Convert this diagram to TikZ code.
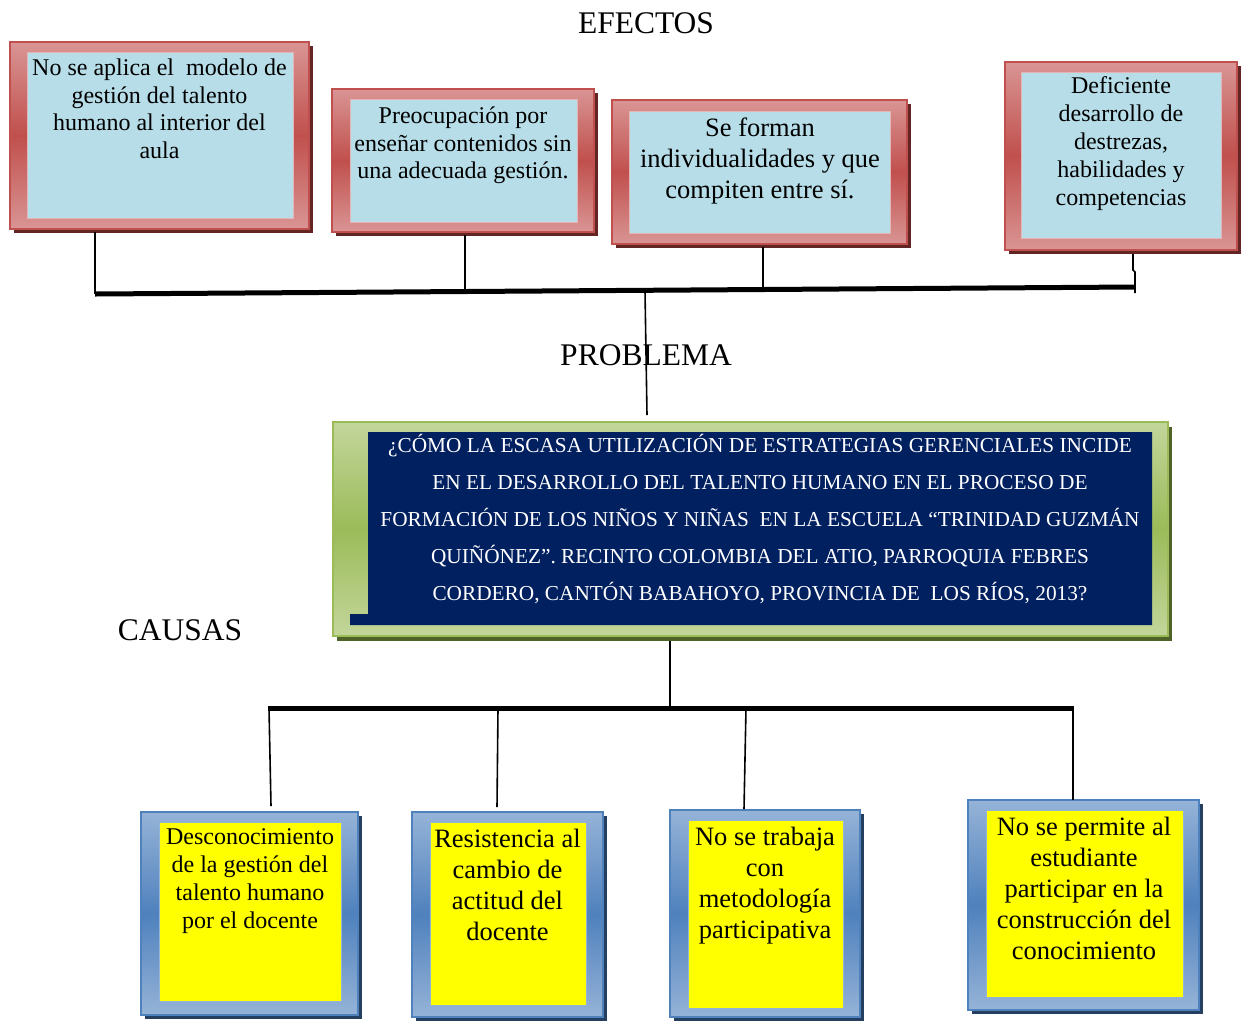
\documentclass[tikz,border=0pt]{standalone}
\usepackage{fontspec}
\setmainfont{Liberation Serif}
\usetikzlibrary{calc,shadows}

\definecolor{pinkL}{HTML}{D99594}
\definecolor{redM}{HTML}{C0504D}
\definecolor{redD}{HTML}{632523}
\definecolor{paleBlue}{HTML}{B7DDE8}
\definecolor{blueL}{HTML}{95B3D7}
\definecolor{blueM}{HTML}{4F81BD}
\definecolor{blueD}{HTML}{243F60}
\definecolor{greenL}{HTML}{C3D69B}
\definecolor{greenM}{HTML}{9BBB59}
\definecolor{greenD}{HTML}{4F6228}
\definecolor{navy}{HTML}{002060}
\definecolor{pureYellow}{RGB}{255,255,0}

\newcommand\setfs[2]{\fontsize{#1}{#2}\selectfont}

\tikzset{
  frame/.style={rectangle, inner sep=0pt, outer sep=0pt, line width=1.2pt},
  effframe/.style={frame, draw=redM, top color=pinkL, bottom color=pinkL, middle color=redM,
    drop shadow={shadow xshift=4pt, shadow yshift=-4pt, fill=redD, opacity=1}},
  effinner/.style={frame, line width=0.6pt, draw=pinkL!70!white, fill=paleBlue},
  causeframe/.style={frame, draw=blueM, top color=blueL, bottom color=blueL, middle color=blueM,
    drop shadow={shadow xshift=4pt, shadow yshift=-4pt, fill=blueD, opacity=1}},
  causeinner/.style={frame, line width=0.6pt, draw=blueL, fill=pureYellow},
  probframe/.style={frame, draw=greenM, top color=greenL, bottom color=greenL, middle color=greenM,
    drop shadow={shadow xshift=4pt, shadow yshift=-5pt, fill=greenD, opacity=1}},
  boxtext/.style={inner sep=0pt, align=center, text=black},
  heading/.style={inner sep=0pt, font=\setfs{31.5}{36}},
  thinline/.style={line width=1.6pt, black},
  barline/.style={line width=5pt, black},
}

\begin{document}
\begin{tikzpicture}[x=1pt,y=-1pt]
\useasboundingbox (0,0) rectangle (1241,1021);

% ---------- headings ----------
\node[heading] (hEfe) at (646,23) {EFECTOS};
\node[heading] (hCau) at (180,630) {CAUSAS};

% ---------- effect boxes ----------
\node[effframe, minimum width=299pt, minimum height=187pt] (e1) at (159.5,135.5) {};
\node[effinner, minimum width=266pt, minimum height=166pt] (e1i) at (160,135) {};
\node[boxtext, font=\setfs{24}{27.5}] (e1t) at (159.5,109)
  {No se aplica el\ \ modelo de\\ gestión del talento\\ humano al interior del\\ aula};

\node[effframe, minimum width=262pt, minimum height=143pt] (e2) at (463,160.5) {};
\node[effinner, minimum width=227pt, minimum height=123pt] (e2i) at (463.5,160.5) {};
\node[boxtext, font=\setfs{24}{27.5}] (e2t) at (463,145.5)
  {Preocupación por\\ enseñar contenidos sin\\ una adecuada gestión.};

\node[effframe, minimum width=295pt, minimum height=144pt] (e3) at (759.5,172) {};
\node[effinner, minimum width=261pt, minimum height=122pt] (e3i) at (759.5,172) {};
\node[boxtext, font=\setfs{26.5}{31}] (e3t) at (760,161)
  {Se forman\\ individualidades y que\\ compiten entre sí.};

\node[effframe, minimum width=232pt, minimum height=188pt] (e4) at (1121,156) {};
\node[effinner, minimum width=200pt, minimum height=166pt] (e4i) at (1121,155) {};
\node[boxtext, font=\setfs{24}{28}] (e4t) at (1121,144)
  {Deficiente\\ desarrollo de\\ destrezas,\\ habilidades y\\ competencias};

% ---------- effects connectors ----------
\coordinate (topL) at (95,294);
\coordinate (topR) at (1135,287);
\coordinate (j2) at (465,291.5);
\coordinate (j3) at (763,289);
\coordinate (jm) at (645,291);
\coordinate (k4) at (1133,270);
\coordinate (k4b) at (1135,272);
\draw[thinline] ($(e1.south -| topL)+(0,3)$) -- (topL);
\draw[thinline] ($(e2.south -| j2)+(0,3)$) -- (j2);
\draw[thinline] ($(e3.south -| j3)+(0,3)$) -- (j3);
\draw[thinline] ($(e4.south -| k4)+(0,4)$) -- (k4) -- (k4b) -- ($(topR)+(0,6)$);
\draw[barline] (topL) -- (topR);

% ---------- problem ----------
\node[heading] (hPro) at (646,355) {PROBLEMA};
\node[probframe, minimum width=835pt, minimum height=214pt] (prob) at (750.5,529) {};
\fill[navy] (368,432) -- (1152,432) -- (1152,625) -- (350,625) -- (350,614) -- (368,614) -- cycle;
\node[boxtext, text=white, font=\setfs{21.3}{37}] (probt) at (760,519)
  {¿CÓMO LA ESCASA UTILIZACIÓN DE ESTRATEGIAS GERENCIALES INCIDE\\
   EN EL DESARROLLO DEL TALENTO HUMANO EN EL PROCESO DE\\
   FORMACIÓN DE LOS NIÑOS Y NIÑAS\ \ EN LA ESCUELA “TRINIDAD GUZMÁN\\
   QUIÑÓNEZ”. RECINTO COLOMBIA DEL ATIO, PARROQUIA FEBRES\\
   CORDERO, CANTÓN BABAHOYO, PROVINCIA DE\ \ LOS RÍOS, 2013?};
\coordinate (pTop) at (647,415);
\draw[thinline] (jm) -- (pTop);

% ---------- cause boxes ----------
\node[causeframe, minimum width=217pt, minimum height=203pt] (c1) at (249.5,913.5) {};
\node[causeinner, minimum width=182pt, minimum height=179pt] (c1i) at (250,911.5) {};
\node[boxtext, font=\setfs{24}{28}] (c1t) at (250,881)
  {Desconocimiento\\ de la gestión del\\ talento humano\\ por el docente};

\node[causeframe, minimum width=191pt, minimum height=205pt] (c2) at (507.5,914.5) {};
\node[causeinner, minimum width=156pt, minimum height=183pt] (c2i) at (508,913.5) {};
\node[boxtext, font=\setfs{26.5}{31}] (c2t) at (507.5,885)
  {Resistencia al\\ cambio de\\ actitud del\\ docente};

\node[causeframe, minimum width=190pt, minimum height=207pt] (c3) at (765,913.5) {};
\node[causeinner, minimum width=155pt, minimum height=188pt] (c3i) at (765.5,914) {};
\node[boxtext, font=\setfs{26.5}{31}] (c3t) at (765,885.5)
  {No se trabaja\\ con\\ metodología\\ participativa};

\node[causeframe, minimum width=231pt, minimum height=210pt] (c4) at (1083.5,905) {};
\node[causeinner, minimum width=197pt, minimum height=187pt] (c4i) at (1084.5,903.5) {};
\node[boxtext, font=\setfs{26.5}{31}] (c4t) at (1084,888)
  {No se permite al\\ estudiante\\ participar en la\\ construcción del\\ conocimiento};

% ---------- causes connectors ----------
\coordinate (pBot) at (670,641);
\coordinate (botL) at (268,708);
\coordinate (botR) at (1074,708);
\coordinate (m1) at (269,708);
\coordinate (m2) at (498,708);
\coordinate (m3) at (746,708);
\coordinate (m4) at (1073,708);
\coordinate (n1) at (271,806);
\coordinate (n2) at (497,807);
\coordinate (n3) at (744,809);
\draw[thinline] (pBot) -- (pBot |- botL);
\draw[thinline] (m1) -- (n1);
\draw[thinline] (m2) -- (n2);
\draw[thinline] (m3) -- (n3);
\draw[thinline] (m4) -- (m4 |- c4.north);
\draw[barline] (botL) -- (botR);
\end{tikzpicture}
\end{document}
